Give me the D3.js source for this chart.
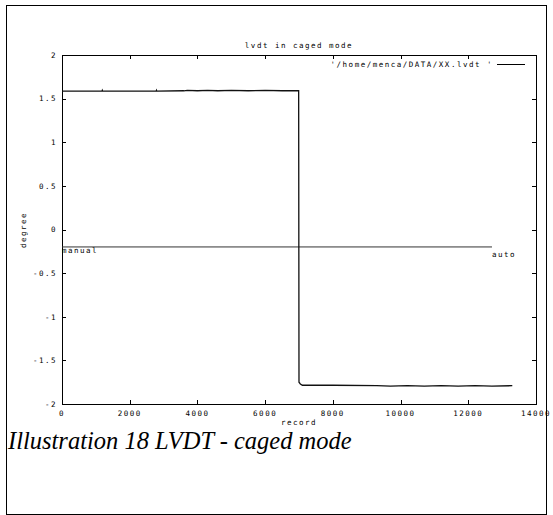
<!DOCTYPE html>
<html>
<head>
<meta charset="utf-8">
<script src="https://cdn.jsdelivr.net/npm/d3@7"></script>
<style>
  body { margin: 0; background: #fff; }
  svg text { fill: #000; }
  .mono { font-family: "DejaVu Sans Mono", monospace; font-size: 7.5px; letter-spacing: 1.5px; }
</style>
</head>
<body>
<div id="chart"></div>
<script>
// lvdt readings
const records = [0, 1180, 1190, 1200, 2780, 2790, 2800, 3600, 3700, 4000, 4300, 4600, 5000, 5500, 6000, 6500, 6990, 7000, 7040, 7100, 8000, 9300, 9700, 10200, 10700, 11200, 11700, 12200, 12700, 13300];
const degree = [1.585, 1.585, 1.595, 1.585, 1.585, 1.595, 1.585, 1.59, 1.595, 1.59, 1.595, 1.59, 1.595, 1.59, 1.595, 1.59, 1.59, -1.75, -1.77, -1.785, -1.785, -1.79, -1.795, -1.79, -1.795, -1.79, -1.795, -1.79, -1.795, -1.79];

// manual -> auto marker line
const modeLine = [[0, -0.2], [12700, -0.2]];
const modeLabels = [['manual', 0], ['auto', 12700]];

const xTicks = [0, 2000, 4000, 6000, 8000, 10000, 12000, 14000];
const yTicks = [-2, -1.5, -1, -0.5, 0, 0.5, 1, 1.5, 2];

const W = 553, H = 515;
const svg = d3.select('#chart').append('svg')
  .attr('width', W).attr('height', H);

// outer frame
svg.append('rect')
  .attr('x', 6.5).attr('y', 5.5)
  .attr('width', 540).attr('height', 509)
  .attr('fill', 'none').attr('stroke', '#000').attr('stroke-width', 1);

const x = d3.scaleLinear().domain([0, 14000]).range([62, 536]);
const y = d3.scaleLinear().domain([-2, 2]).range([404, 55]);

const tickLen = 4;

// ticks (mirrored on all sides, pointing inward)
const ticks = svg.append('g').attr('stroke', '#000').attr('stroke-width', 1);
xTicks.forEach(t => {
  const xx = Math.round(x(t)) + 0.5;
  ticks.append('line').attr('x1', xx).attr('x2', xx).attr('y1', y(-2)).attr('y2', y(-2) - tickLen);
  ticks.append('line').attr('x1', xx).attr('x2', xx).attr('y1', y(2)).attr('y2', y(2) + tickLen);
});
yTicks.forEach(t => {
  const yy = Math.round(y(t)) + 0.5;
  ticks.append('line').attr('x1', x(0)).attr('x2', x(0) + tickLen).attr('y1', yy).attr('y2', yy);
  ticks.append('line').attr('x1', x(14000)).attr('x2', x(14000) - tickLen).attr('y1', yy).attr('y2', yy);
});

// border
svg.append('rect')
  .attr('x', x(0) + 0.5).attr('y', y(2) + 0.5)
  .attr('width', x(14000) - x(0)).attr('height', y(-2) - y(2))
  .attr('fill', 'none').attr('stroke', '#000').attr('stroke-width', 1);

// tick labels
svg.append('g').selectAll('text').data(xTicks).join('text')
  .attr('class', 'mono')
  .attr('x', d => x(d)).attr('y', 415.5)
  .attr('text-anchor', 'middle')
  .text(d => d);

svg.append('g').selectAll('text').data(yTicks).join('text')
  .attr('class', 'mono')
  .attr('x', 57).attr('y', d => y(d) + 2.8)
  .attr('text-anchor', 'end')
  .text(d => d);

// titles
svg.append('text').attr('class', 'mono')
  .attr('x', 299).attr('y', 47.5).attr('text-anchor', 'middle')
  .text('lvdt in caged mode');

svg.append('text').attr('class', 'mono')
  .attr('x', 299).attr('y', 425).attr('text-anchor', 'middle')
  .text('record');

svg.append('text').attr('class', 'mono')
  .attr('transform', 'translate(25.5,230) rotate(-90)')
  .attr('text-anchor', 'middle')
  .text('degree');

// legend
svg.append('text').attr('class', 'mono')
  .attr('x', 493).attr('y', 66.5).attr('text-anchor', 'end')
  .text("'/home/menca/DATA/XX.lvdt '");
svg.append('line')
  .attr('x1', 497).attr('x2', 525).attr('y1', 64.5).attr('y2', 64.5)
  .attr('stroke', '#000').attr('stroke-width', 1);

// mode line and labels
svg.append('path')
  .attr('d', d3.line().x(d => x(d[0])).y(d => y(d[1]))(modeLine))
  .attr('fill', 'none').attr('stroke', '#333').attr('stroke-width', 1);

svg.append('g').selectAll('text').data(modeLabels).join('text')
  .attr('class', 'mono')
  .attr('x', d => x(d[1])).attr('y', (d, i) => i === 0 ? 252.5 : 256.5)
  .text(d => d[0]);

// data trace
const series = records.map((r, i) => [r, degree[i]]);
svg.append('path')
  .attr('d', d3.line().x(d => x(d[0])).y(d => y(d[1]))(series))
  .attr('fill', 'none').attr('stroke', '#111').attr('stroke-width', 1.3);

// caption
svg.append('text')
  .attr('x', 8).attr('y', 449)
  .attr('font-family', '"Liberation Serif", serif')
  .attr('font-style', 'italic')
  .attr('font-size', 24.5)
  .text('Illustration 18 LVDT - caged mode');
</script>
</body>
</html>
